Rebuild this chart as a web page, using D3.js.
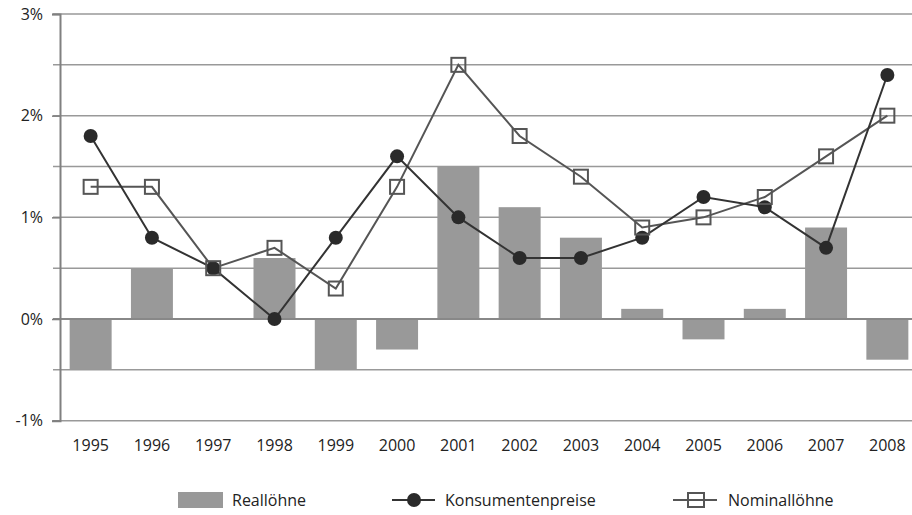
<!DOCTYPE html>
<meta charset="utf-8">
<script src="https://d3js.org/d3.v7.min.js"></script>
<style>
  body { margin: 0; background: #fff; }
  text { font-family: "Open Sans", sans-serif; fill: #222; }
</style>
<div id="chart"></div>
<script>
var years = ["1995","1996","1997","1998","1999","2000","2001","2002","2003","2004","2005","2006","2007","2008"];
var reallohne = [-0.5, 0.5, 0.0, 0.6, -0.5, -0.3, 1.5, 1.1, 0.8, 0.1, -0.2, 0.1, 0.9, -0.4];
var konsumentenpreise = [1.8, 0.8, 0.5, 0.0, 0.8, 1.6, 1.0, 0.6, 0.6, 0.8, 1.2, 1.1, 0.7, 2.4];
var nominallohne = [1.3, 1.3, 0.5, 0.7, 0.3, 1.3, 2.5, 1.8, 1.4, 0.9, 1.0, 1.2, 1.6, 2.0];
var yTicks = [-1, 0, 1, 2, 3];
var yGrid = [-1, -0.5, 0, 0.5, 1, 1.5, 2, 2.5, 3];

var width = 912, height = 515;

var svg = d3.select("#chart").append("svg")
    .attr("width", width)
    .attr("height", height);

var x = d3.scaleBand()
    .domain(years)
    .range([60, 918])
    .paddingInner(0.315)
    .paddingOuter(0.1575);

var y = d3.scaleLinear()
    .domain([-1, 3])
    .range([420.7, 14]);

// gridlines
svg.append("g")
  .selectAll("line")
  .data(yGrid)
  .enter().append("line")
    .attr("x1", 53)
    .attr("x2", 918)
    .attr("y1", d => y(d))
    .attr("y2", d => y(d))
    .attr("stroke", "#999")
    .attr("stroke-width", 1.5);

// bars
svg.append("g")
  .selectAll("rect")
  .data(years)
  .enter().append("rect")
    .attr("x", d => x(d))
    .attr("width", x.bandwidth())
    .attr("y", (d, i) => y(Math.max(0, reallohne[i])))
    .attr("height", (d, i) => Math.abs(y(reallohne[i]) - y(0)))
    .attr("fill", "#999");

// zero line + y axis
svg.append("line")
  .attr("x1", 53).attr("x2", 918)
  .attr("y1", y(0)).attr("y2", y(0))
  .attr("stroke", "#888").attr("stroke-width", 2);

var yAxis = svg.append("g")
  .attr("transform", "translate(60,0)")
  .call(d3.axisLeft(y).tickValues(yTicks).tickSize(8).tickPadding(9).tickFormat(d => d + "%"));
yAxis.select(".domain").attr("stroke", "#808080").attr("stroke-width", 2);
yAxis.selectAll(".tick line").attr("stroke", "#808080").attr("stroke-width", 1.5);
yAxis.selectAll("text").style("font-size", "16px").attr("fill", "#222");

// x labels
svg.append("g")
  .selectAll("text")
  .data(years)
  .enter().append("text")
    .attr("x", d => x(d) + x.bandwidth() / 2)
    .attr("y", 451)
    .attr("text-anchor", "middle")
    .style("font-size", "16px")
    .text(d => d);

var cx = d => x(d) + x.bandwidth() / 2;

// Nominallöhne line
svg.append("path")
  .datum(years)
  .attr("fill", "none")
  .attr("stroke", "#555")
  .attr("stroke-width", 2)
  .attr("d", d3.line().x(d => cx(d)).y((d, i) => y(nominallohne[i])));

// Konsumentenpreise line
svg.append("path")
  .datum(years)
  .attr("fill", "none")
  .attr("stroke", "#333")
  .attr("stroke-width", 2)
  .attr("d", d3.line().x(d => cx(d)).y((d, i) => y(konsumentenpreise[i])));

svg.append("g")
  .selectAll("circle")
  .data(years)
  .enter().append("circle")
    .attr("cx", d => cx(d))
    .attr("cy", (d, i) => y(konsumentenpreise[i]))
    .attr("r", 7)
    .attr("fill", "#2a2a2a");

svg.append("g")
  .selectAll("rect")
  .data(years)
  .enter().append("rect")
    .attr("x", d => cx(d) - 7)
    .attr("y", (d, i) => y(nominallohne[i]) - 7)
    .attr("width", 14)
    .attr("height", 14)
    .attr("fill", "none")
    .attr("stroke", "#555")
    .attr("stroke-width", 2);

// legend
var lg = svg.append("g");
var ly = 500;
lg.append("rect").attr("x", 178).attr("y", ly - 8).attr("width", 45).attr("height", 16).attr("fill", "#999");
lg.append("text").attr("x", 232).attr("y", ly + 6).style("font-size", "16px").text("Reallöhne");

lg.append("line").attr("x1", 392).attr("x2", 435).attr("y1", ly).attr("y2", ly).attr("stroke", "#333").attr("stroke-width", 2);
lg.append("circle").attr("cx", 414).attr("cy", ly).attr("r", 7).attr("fill", "#2a2a2a");
lg.append("text").attr("x", 445).attr("y", ly + 6).style("font-size", "16px").text("Konsumentenpreise");

lg.append("line").attr("x1", 673).attr("x2", 717).attr("y1", ly).attr("y2", ly).attr("stroke", "#555").attr("stroke-width", 2);
lg.append("rect").attr("x", 688).attr("y", ly - 7).attr("width", 16).attr("height", 14).attr("fill", "none").attr("stroke", "#555").attr("stroke-width", 2);
lg.append("text").attr("x", 728).attr("y", ly + 6).style("font-size", "16px").text("Nominallöhne");
</script>
